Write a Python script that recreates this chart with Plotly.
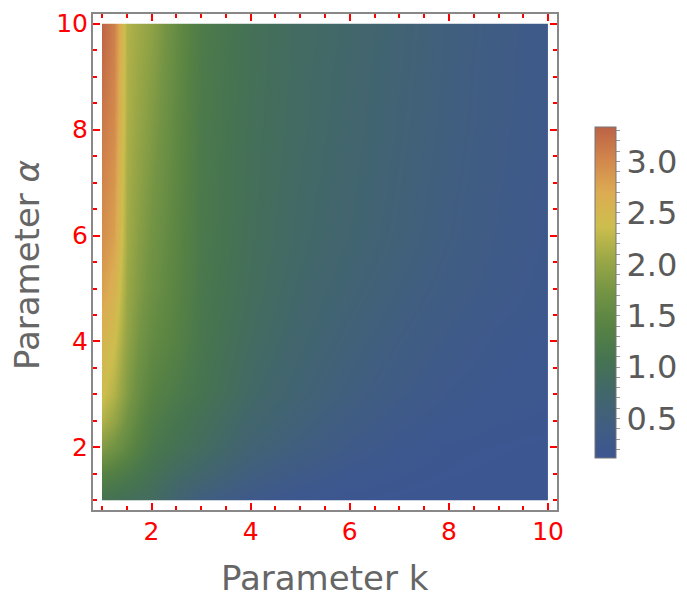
import plotly.graph_objects as go

# Parameter grids
k_vals = [1, 1.25, 1.5, 1.75, 2, 2.5, 3, 4, 5, 6, 7, 8, 9, 10]
alpha_vals = [1, 1.5, 2, 2.5, 3, 4, 5, 6, 8, 10]

# Estimated values, one row per alpha value, columns follow k_vals
z_a1 = [1.05, 1.00, 0.95, 0.92, 0.88, 0.65, 0.45, 0.25, 0.16, 0.14, 0.13, 0.12, 0.12, 0.12]
z_a1p5 = [1.40, 1.32, 1.22, 1.12, 1.02, 0.86, 0.72, 0.46, 0.30, 0.20, 0.16, 0.14, 0.13, 0.12]
z_a2 = [1.85, 1.70, 1.52, 1.34, 1.18, 1.02, 0.90, 0.62, 0.45, 0.30, 0.20, 0.15, 0.14, 0.13]
z_a2p5 = [2.20, 2.00, 1.70, 1.48, 1.28, 1.12, 0.98, 0.72, 0.54, 0.38, 0.26, 0.19, 0.16, 0.15]
z_a3 = [2.40, 2.20, 1.85, 1.60, 1.40, 1.22, 1.08, 0.80, 0.62, 0.46, 0.33, 0.23, 0.18, 0.16]
z_a4 = [2.55, 2.40, 1.98, 1.74, 1.55, 1.37, 1.14, 0.88, 0.70, 0.54, 0.41, 0.30, 0.22, 0.18]
z_a5 = [2.80, 2.62, 2.05, 1.84, 1.66, 1.43, 1.17, 0.93, 0.76, 0.62, 0.49, 0.37, 0.28, 0.21]
z_a6 = [2.95, 2.80, 2.10, 1.90, 1.72, 1.46, 1.19, 0.96, 0.80, 0.68, 0.55, 0.42, 0.31, 0.23]
z_a8 = [3.12, 2.98, 2.16, 2.00, 1.83, 1.52, 1.21, 0.98, 0.84, 0.72, 0.59, 0.46, 0.34, 0.25]
z_a10 = [3.32, 3.08, 2.20, 2.08, 1.95, 1.58, 1.24, 1.00, 0.86, 0.75, 0.62, 0.48, 0.36, 0.26]
z_rows = [z_a1, z_a1p5, z_a2, z_a2p5, z_a3, z_a4, z_a5, z_a6, z_a8, z_a10]

z_min = 0.116
z_max = 3.336

cbar_tickvals = [round(0.2 + 0.1 * i, 1) for i in range(32)]
cbar_ticktext = [("%.1f" % v) if abs(v * 2 - round(v * 2)) < 1e-9 else "" for v in cbar_tickvals]

dark_rainbow = [
    [0.0, "rgb(60,86,146)"],
    [0.1, "rgb(64,94,128)"],
    [0.2, "rgb(66,103,106)"],
    [0.3, "rgb(70,116,80)"],
    [0.4, "rgb(88,131,67)"],
    [0.5, "rgb(115,148,68)"],
    [0.6, "rgb(155,168,70)"],
    [0.7, "rgb(205,190,78)"],
    [0.8, "rgb(220,172,82)"],
    [0.9, "rgb(210,135,76)"],
    [1.0, "rgb(188,98,70)"],
]

FONT = "DejaVu Sans"

fig = go.Figure(
    go.Contour(
        x=k_vals,
        y=alpha_vals,
        z=z_rows,
        zmin=z_min,
        zmax=z_max,
        colorscale=dark_rainbow,
        contours=dict(coloring="heatmap", showlines=False),
        line=dict(width=0),
        hoverinfo="skip",
        colorbar=dict(
            x=1.0819,
            xanchor="left",
            xpad=0,
            y=0.4385,
            yanchor="middle",
            ypad=0,
            len=331,
            lenmode="pixels",
            thickness=21,
            outlinecolor="#777777",
            outlinewidth=1,
            tickmode="array",
            tickvals=cbar_tickvals,
            ticktext=cbar_ticktext,
            ticks="outside",
            ticklen=4,
            tickwidth=1,
            tickcolor="#999999",
            tickfont=dict(family=FONT, size=32, color="#5a5a5a"),
        ),
    )
)

axis_common = dict(
    range=[0.82, 10.18],
    tick0=0,
    dtick=2,
    ticks="inside",
    ticklen=7,
    tickwidth=1.5,
    tickcolor="#ff0000",
    tickfont=dict(family=FONT, size=25, color="#ff0000"),
    showline=True,
    linecolor="#888888",
    linewidth=2,
    mirror="allticks",
    showgrid=False,
    zeroline=False,
    minor=dict(dtick=0.5, tick0=0, ticks="inside", ticklen=4, tickwidth=1.5, tickcolor="#ff0000", showgrid=False),
)

fig.update_xaxes(**axis_common, ticklabelstandoff=-2)
fig.update_yaxes(**axis_common, ticklabelstandoff=-2)

fig.update_layout(
    width=687,
    height=598,
    margin=dict(l=93, r=130, t=14, b=88, autoexpand=False),
    paper_bgcolor="white",
    plot_bgcolor="white",
    font=dict(family=FONT),
    annotations=[
        dict(
            text="Parameter k",
            xref="paper",
            yref="paper",
            x=0.5,
            y=-0.138,
            xanchor="center",
            yanchor="middle",
            showarrow=False,
            font=dict(family=FONT, size=34, color="#666666"),
        ),
        dict(
            text="Parameter <i>α</i>",
            xref="paper",
            yref="paper",
            x=-0.142,
            y=0.494,
            xanchor="center",
            yanchor="middle",
            textangle=-90,
            showarrow=False,
            font=dict(family=FONT, size=34, color="#666666"),
        ),
    ],
)

fig.write_html("out.html")
